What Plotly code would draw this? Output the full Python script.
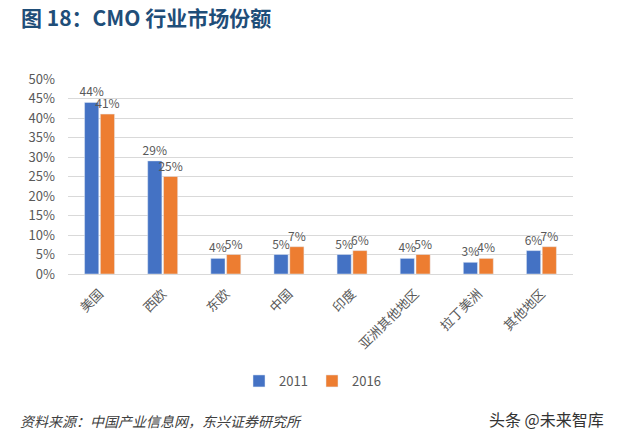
import plotly.graph_objects as go

categories = ["美国", "西欧", "东欧", "中国", "印度", "亚洲其他地区", "拉丁美洲", "其他地区"]
values_2011 = [44, 29, 4, 5, 5, 4, 3, 6]
values_2016 = [41, 25, 5, 7, 6, 5, 4, 7]
y_ticks = [0, 5, 10, 15, 20, 25, 30, 35, 40, 45, 50]

W, H = 617, 447
L, R, T, B = 68, 44, 79, 173
pw, ph = W - L - R, H - T - B

def px(x):
    return (x - L) / pw

def py(y):
    return (H - B - y) / ph

font_cjk = "Noto Sans CJK SC"

fig = go.Figure()
fig.add_bar(x=categories, y=[v / 100 for v in values_2011], name="2011",
            marker_color="#4472C4",
            text=[f"{v}%" for v in values_2011], textposition="outside",
            textfont=dict(size=12, color="#595959", family=font_cjk),
            constraintext="none", cliponaxis=False)
fig.add_bar(x=categories, y=[v / 100 for v in values_2016], name="2016",
            marker_color="#ED7D31",
            text=[f"{v}%" for v in values_2016], textposition="outside",
            textfont=dict(size=12, color="#595959", family=font_cjk),
            constraintext="none", cliponaxis=False)

fig.update_layout(
    width=W, height=H,
    margin=dict(l=L, r=R, t=T, b=B, autoexpand=False),
    paper_bgcolor="white", plot_bgcolor="white",
    barmode="group", bargap=0.5, bargroupgap=0.1,
    font=dict(family=font_cjk, color="#595959"),
    showlegend=True,
    legend=dict(orientation="h", x=px(312), xanchor="center", y=py(381), yanchor="middle",
                font=dict(size=13, color="#595959"), itemwidth=30, entrywidth=28),
    xaxis=dict(tickangle=-45, tickfont=dict(size=13, color="#595959"),
               showline=True, linecolor="#D9D9D9", ticks="", ticklabelstandoff=6),
    yaxis=dict(range=[0, 0.5], tickvals=[t / 100 for t in y_ticks],
               ticktext=[f"{t}%" for t in y_ticks],
               tickfont=dict(size=13, color="#595959"),
               showgrid=True, gridcolor="#D9D9D9", zeroline=False, ticks="",
               ticklabelstandoff=12),
    annotations=[
        dict(text="<b>图 18：CMO 行业市场份额</b>", x=px(19), y=py(17), xref="paper", yref="paper",
             xanchor="left", yanchor="middle", showarrow=False,
             font=dict(size=21, color="#1F4E79", family=font_cjk)),
        dict(text="<i>资料来源：中国产业信息网，东兴证券研究所</i>", x=px(18), y=py(421),
             xref="paper", yref="paper", xanchor="left", yanchor="middle", showarrow=False,
             font=dict(size=14, color="#404040", family=font_cjk)),
        dict(text="头条 @未来智库", x=px(606), y=py(419),
             xref="paper", yref="paper", xanchor="right", yanchor="middle", showarrow=False,
             font=dict(size=16, color="#333333", family=font_cjk)),
    ],
)

fig.write_html("out.html", config={"displayModeBar": False},
               post_script="document.body.style.margin='0';")
